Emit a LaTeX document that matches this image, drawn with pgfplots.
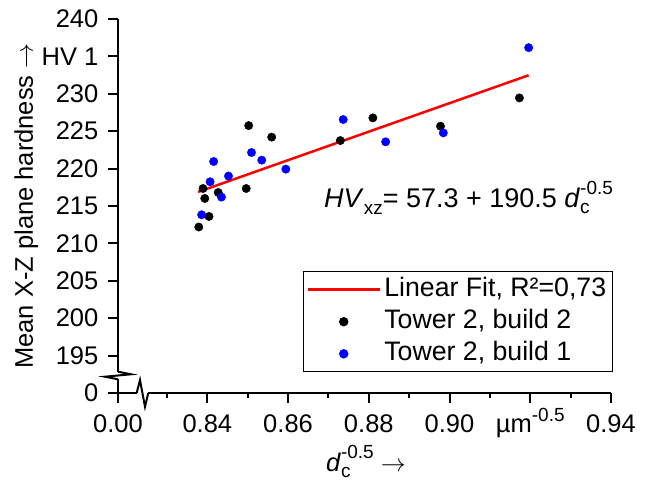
\documentclass[border=0pt]{standalone}
\usepackage{fontspec}
\setmainfont{Liberation Sans}
\usepackage{pgfplots}
\pgfplotsset{compat=1.18}
\pgfplotsset{
  mylinelegend/.style={legend image code/.code={\draw[##1] (0pt,0pt) -- (72pt,0pt);}},
  mymarklegend/.style={legend image code/.code={\draw[mark repeat=2,mark phase=2,##1] plot coordinates {(0pt,0pt) (36pt,0pt) (72pt,0pt)};}},
}
\newcommand{\smtxt}[1]{{\fontsize{19}{19}\selectfont #1}}

\pgfplotstableread{
x y
0.83788 212.19
0.83893 217.34
0.83937 216.01
0.84042 213.60
0.84270 216.81
0.84963 217.34
0.85024 225.75
0.85594 224.21
0.87295 223.75
0.88101 226.78
0.89776 225.67
0.91731 229.45
}\buildtwo

\pgfplotstableread{
x y
0.83858 213.83
0.84068 218.24
0.84156 220.95
0.84349 216.19
0.84524 219.00
0.85094 222.15
0.85348 221.13
0.85945 219.93
0.87365 226.56
0.88417 223.58
0.89846 224.78
0.91960 236.17
}\buildone

\pgfplotstableread{
x y
0.83770 216.88
0.91960 232.48
}\fitline

\begin{document}
\fontsize{25.5}{30}\selectfont
\begin{tikzpicture}
\useasboundingbox (-118pt,-88pt) rectangle (535pt,393pt);
\begin{axis}[
  at={(0pt,0pt)}, anchor=south west,
  scale only axis, width=493pt, height=374pt,
  xmin=0.81787, xmax=0.94, ymin=190, ymax=240,
  clip=false,
  axis x line*=bottom, axis y line*=left,
  axis line style={line width=2pt, -},
  tick align=outside,
  major tick length=10pt, minor tick length=5pt,
  every tick/.style={line width=2pt, black},
  xtick={0.81787,0.84,0.86,0.88,0.90,0.92,0.94},
  xticklabels={0.00,0.84,0.86,0.88,0.90,{µm\raisebox{11pt}{\smtxt{-0.5}}},0.94},
  minor xtick={0.83,0.85,0.87,0.89,0.91,0.93},
  ytick={190,195,200,205,210,215,220,225,230,235,240},
  yticklabels={0,195,200,205,210,215,220,225,230,{HV 1},240},
  /pgf/number format/assume math mode=true,
  ticklabel style={font=\fontsize{25.5}{30}\selectfont},
  xticklabel style={anchor=base, yshift=-30pt},
  yticklabel style={anchor=east, xshift=-1pt},
  xlabel={\textit{d}\rlap{\raisebox{-6pt}{\smtxt{c}}}\raisebox{13pt}{\smtxt{-0.5}} $\rightarrow$},
  xlabel style={at={(axis description cs:0.503,0)}, anchor=base, yshift=-78.7pt, font=\fontsize{25.5}{30}\selectfont},
  ylabel={Mean X-Z plane hardness $\rightarrow$},
  ylabel style={at={(axis description cs:-0.186,0.5)}, anchor=center, rotate=0, font=\fontsize{25.5}{30}\selectfont},
  legend style={at={(rel axis cs:1.004,0.326)}, anchor=north east, draw=black, line width=1pt,
    font=\fontsize{26.7}{32}\selectfont, inner xsep=3pt, inner ysep=2pt, row sep=0pt,
    nodes={text height=19.5pt, text depth=6pt, inner sep=3.3pt}},
  legend cell align=left,
]
\addplot[red, line width=2.5pt, no markers, mylinelegend] table {\fitline};
\addlegendentry{Linear Fit, R²=0,73}
\addplot[only marks, mark=*, mark size=4.2pt, black, mark options={draw=black, fill=black}, mymarklegend] table {\buildtwo};
\addlegendentry{Tower 2, build 2}
\addplot[only marks, mark=*, mark size=4.2pt, blue, mark options={draw=blue, fill=blue}, mymarklegend] table {\buildone};
\addlegendentry{Tower 2, build 1}

\node[anchor=base west, inner sep=0pt, font=\fontsize{27}{30}\selectfont] at ([xshift=206pt,yshift=185.3pt]rel axis cs:0,0)
  {\textit{HV}\raisebox{-7pt}{\smtxt{xz}}= 57.3 + 190.5 \textit{d}\rlap{\raisebox{-6pt}{\smtxt{c}}}\raisebox{13pt}{\smtxt{-0.5}}};

% crossing zero tick on y axis
\draw[line width=2pt] (rel axis cs:0,0) -- ([xshift=7pt]rel axis cs:0,0);
% axis breaks
\draw[white, line width=4pt] ([yshift=13.7pt]rel axis cs:0,0) -- ([yshift=21.3pt]rel axis cs:0,0);
\draw[black, line width=2pt, line join=miter]
  ([yshift=21.3pt]rel axis cs:0,0) -- ([xshift=13pt,yshift=18.7pt]rel axis cs:0,0)
  -- ([xshift=-13pt,yshift=16.3pt]rel axis cs:0,0) -- ([yshift=13.7pt]rel axis cs:0,0);
\draw[white, line width=4pt] ([xshift=18.7pt]rel axis cs:0,0) -- ([xshift=30.3pt]rel axis cs:0,0);
\draw[black, line width=2pt, line join=miter]
  ([xshift=18.7pt]rel axis cs:0,0) -- ([xshift=22pt,yshift=13pt]rel axis cs:0,0)
  -- ([xshift=27pt,yshift=-13.7pt]rel axis cs:0,0) -- ([xshift=30.3pt]rel axis cs:0,0);
\end{axis}
\end{tikzpicture}
\end{document}
